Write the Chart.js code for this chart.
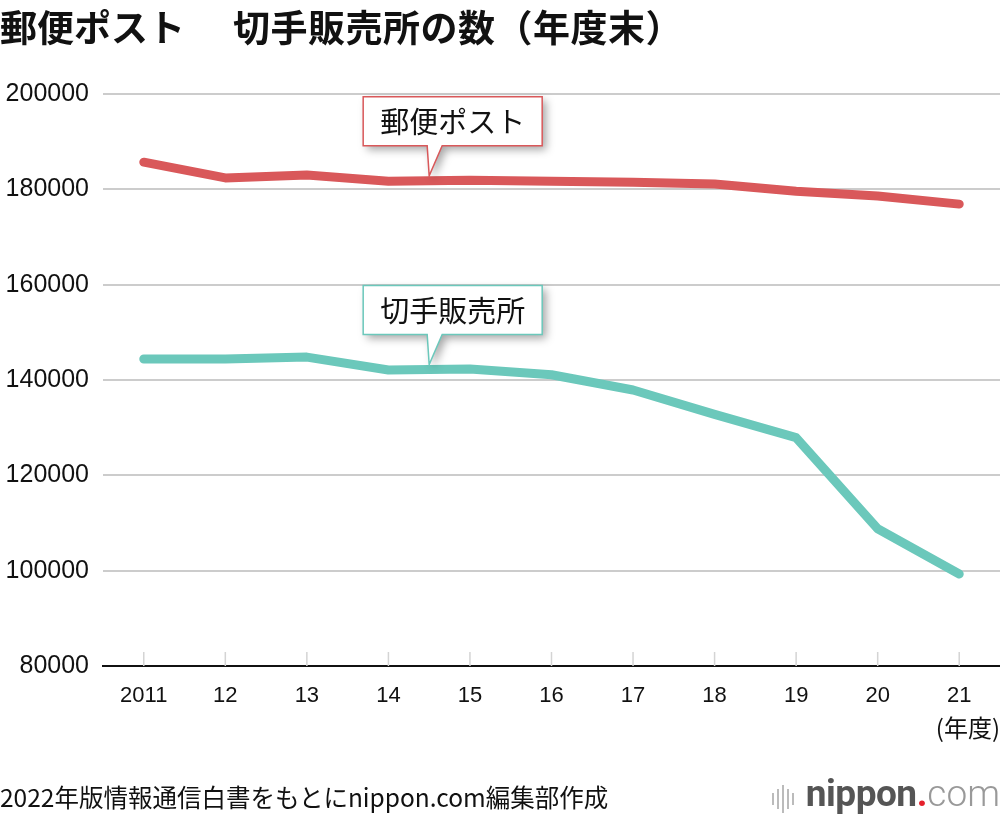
<!DOCTYPE html>
<html>
<head>
<meta charset="utf-8">
<script src="https://cdn.jsdelivr.net/npm/chart.js@4"></script>
<style>
  html, body { margin: 0; padding: 0; background: #fff; }
  body { width: 1000px; height: 816px; position: relative; overflow: hidden; font-family: "Noto Sans CJK JP", "Liberation Sans", sans-serif; }
  #wrap { position: absolute; left: 0; top: 0; width: 1000px; height: 816px; }
  #title { position: absolute; left: 0; top: 0px; font-size: 37px; font-weight: bold; color: #111; white-space: nowrap; letter-spacing: 0px; line-height: 52px; }
  #unit { position: absolute; right: 0; top: 710px; font-size: 24px; color: #111; font-family: "Noto Sans CJK JP", sans-serif; white-space: nowrap; line-height: 34px; }
  #source { position: absolute; left: 0; top: 780px; font-size: 24.5px; color: #111; white-space: nowrap; line-height: 34px; }
  #logo { position: absolute; right: 0; top: 774px; height: 40px; white-space: nowrap; font-family: "Roboto", "Liberation Sans", sans-serif; font-size: 37px; line-height: 40px; }
  #logo .bars { display: inline-block; vertical-align: middle; margin-right: 8px; height: 30px; position: relative; width: 26px; }
  #logo .bars i { position: absolute; bottom: 0; width: 2px; background: #bbb; }
  #logo .n { color: #555; font-weight: bold; letter-spacing: -0.5px; }
  #logo .d { color: #e5212c; font-weight: bold; }
  #logo .c { color: #999; font-weight: 300; }
</style>
</head>
<body>
<div id="wrap"><canvas id="c" width="1000" height="816"></canvas></div>
<div id="title">郵便ポスト<span style="display:inline-block;width:48px"></span><span style="letter-spacing:0.5px">切手販売所の数（年度末）</span></div>
<div id="unit">(年度)</div>
<div id="source">2022年版情報通信白書をもとにnippon.com編集部作成</div>
<div id="logo"><span class="bars"><i style="left:0;height:12px;bottom:6px"></i><i style="left:5px;height:20px;bottom:2px"></i><i style="left:10px;height:28px;bottom:-2px"></i><i style="left:15px;height:20px;bottom:2px"></i><i style="left:20px;height:12px;bottom:6px"></i></span><span class="n">nippon</span><span class="d">.</span><span class="c">com</span></div>
<script>
const categories = ["2011", "12", "13", "14", "15", "16", "17", "18", "19", "20", "21"];
const postBoxes = [185700, 182400, 183000, 181700, 181900, 181700, 181500, 181100, 179600, 178600, 176900];
const stampShops = [144400, 144400, 144800, 142100, 142300, 141100, 137900, 132800, 127900, 108800, 99300];
const yTicks = [80000, 100000, 120000, 140000, 160000, 180000, 200000];
const seriesNames = ["郵便ポスト", "切手販売所"];

const RED = "#d9585a";
const TEAL = "#6bc8bb";

const tickMarks = {
  id: "tickMarks",
  beforeDatasetsDraw(chart) {
    const x = chart.scales.x, ctx = chart.ctx, b = chart.chartArea.bottom;
    ctx.save();
    ctx.strokeStyle = "#d4d4d4";
    ctx.lineWidth = 1.5;
    x.ticks.forEach((t, i) => {
      const px = x.getPixelForTick(i);
      ctx.beginPath();
      ctx.moveTo(px, b - 14);
      ctx.lineTo(px, b);
      ctx.stroke();
    });
    ctx.restore();
  }
};

const callouts = {
  id: "callouts",
  afterDatasetsDraw(chart) {
    const ctx = chart.ctx, xs = chart.scales.x, ys = chart.scales.y;
    const colors = [RED, TEAL];
    chart.data.datasets.forEach((ds, di) => {
      const tipX = (xs.getPixelForValue(3) + xs.getPixelForValue(4)) / 2;
      const v = (ds.data[3] + ds.data[4]) / 2;
      const tipY = ys.getPixelForValue(v) - 5;
      ctx.save();
      ctx.font = "29px 'Noto Sans CJK JP'";
      const tw = ctx.measureText(seriesNames[di]).width;
      const left = tipX - 66;
      const w = tw + 34;
      const right = left + w;
      const top = tipY - 79;
      const bottom = tipY - 30;
      const pl = tipX - 2, pr = tipX + 13;
      ctx.beginPath();
      ctx.moveTo(left, top);
      ctx.lineTo(right, top);
      ctx.lineTo(right, bottom);
      ctx.lineTo(pr, bottom);
      ctx.lineTo(tipX, tipY);
      ctx.lineTo(pl, bottom);
      ctx.lineTo(left, bottom);
      ctx.closePath();
      ctx.shadowColor = "rgba(0,0,0,0.35)";
      ctx.shadowBlur = 9;
      ctx.shadowOffsetX = 4;
      ctx.shadowOffsetY = 4;
      ctx.fillStyle = "#fff";
      ctx.fill();
      ctx.shadowColor = "transparent";
      ctx.lineWidth = 1.5;
      ctx.strokeStyle = colors[di];
      ctx.stroke();
      ctx.fillStyle = "#111";
      ctx.textAlign = "center";
      ctx.textBaseline = "middle";
      ctx.fillText(seriesNames[di], (left + right) / 2, (top + bottom) / 2 + 1);
      ctx.restore();
    });
  }
};

new Chart(document.getElementById("c"), {
  type: "line",
  data: {
    labels: categories,
    datasets: [
      { label: seriesNames[0], data: postBoxes, borderColor: RED, backgroundColor: RED, borderWidth: 9, pointRadius: 0, tension: 0, borderCapStyle: "round", borderJoinStyle: "round" },
      { label: seriesNames[1], data: stampShops, borderColor: TEAL, backgroundColor: TEAL, borderWidth: 9, pointRadius: 0, tension: 0, borderCapStyle: "round", borderJoinStyle: "round" }
    ]
  },
  options: {
    responsive: false,
    animation: false,
    devicePixelRatio: 1,
    layout: { padding: { top: 94, right: 0, bottom: 0, left: 0 } },
    plugins: { legend: { display: false }, tooltip: { enabled: false }, title: { display: false } },
    scales: {
      x: {
        offset: true,
        grid: { display: false },
        border: { display: true, color: "#111", width: 2 },
        ticks: { color: "#111", padding: 9, font: { family: "'Liberation Sans'", size: 22 }, maxRotation: 0, autoSkip: false },
        afterFit(s) { s.height = 150; }
      },
      y: {
        min: 80000, max: 200000,
        afterBuildTicks(s) { s.ticks = yTicks.map(v => ({ value: v })); },
        grid: { color: "#cccccc", lineWidth: 2, drawTicks: false },
        border: { display: false },
        ticks: { color: "#111", padding: 14, font: { family: "'Liberation Sans'", size: 25 }, callback: v => String(v) },
        afterFit(s) { s.width = 103; }
      }
    }
  },
  plugins: [tickMarks, callouts]
});
</script>
</body>
</html>
